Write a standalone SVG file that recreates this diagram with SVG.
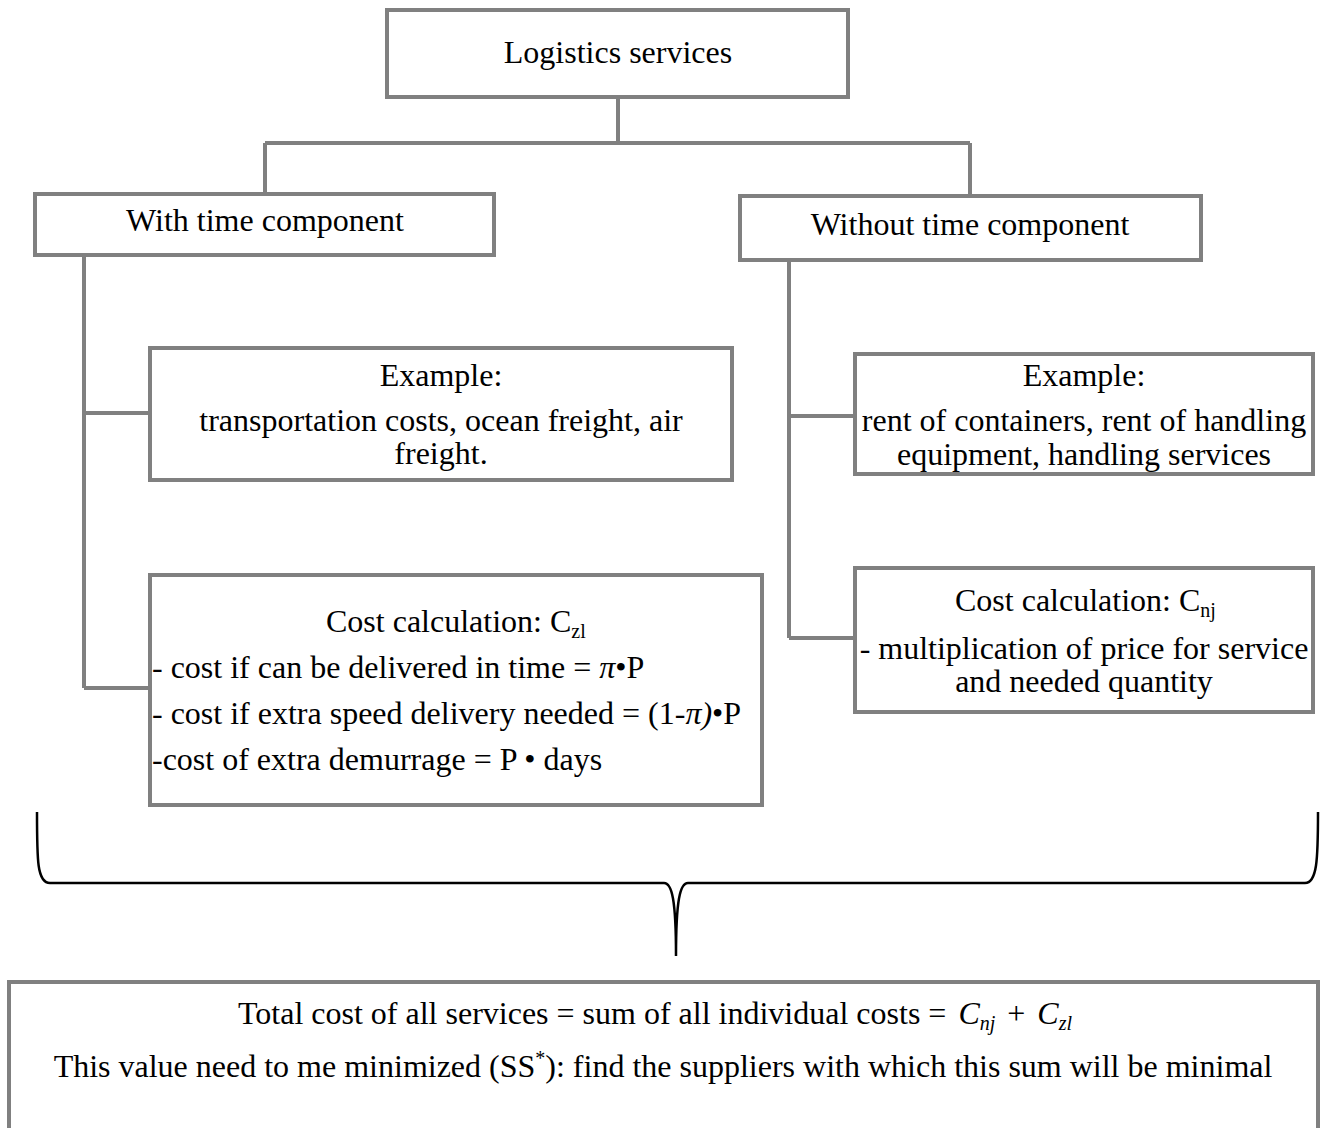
<svg xmlns="http://www.w3.org/2000/svg" width="1326" height="1128" viewBox="0 0 1326 1128">
<style>
.box{fill:#fff;stroke:#808080;stroke-width:4}
.ln{fill:none;stroke:#808080;stroke-width:4}
.brace{fill:none;stroke:#000;stroke-width:2.5}
text{font-family:"Liberation Serif","Times New Roman",serif;font-size:32px;fill:#000}
.c{text-anchor:middle}
.sub{font-size:20px}
.m{font-style:italic}
</style>
<rect width="1326" height="1128" fill="#fff"/>
<g id="connectors">
<path class="ln" d="M618,97 V143 M265,143 H970 M265,143 V195 M970,143 V196"/>
<path class="ln" d="M84,255 V688 M84,413 H150 M84,688 H150"/>
<path class="ln" d="M789,260 V638 M789,416 H855 M789,638 H855"/>
<path class="brace" d="M37,812 C37,860 37,883 50,883 L664,883 C672,883 676,900 676,956 C676,900 680,883 688,883 L1305,883 C1317,883 1318,860 1318,812"/>
</g>
<g id="n-root">
<rect class="box" x="387" y="10" width="461" height="87"/>
<text class="c" x="618" y="63">Logistics services</text>
</g>
<g id="n-with">
<rect class="box" x="35" y="194" width="459" height="61"/>
<text class="c" x="265" y="231">With time component</text>
</g>
<g id="n-without">
<rect class="box" x="740" y="196" width="461" height="64"/>
<text class="c" x="970" y="235">Without time component</text>
</g>
<g id="n-ex-left">
<rect class="box" x="150" y="348" width="582" height="132"/>
<text class="c" x="441" y="386">Example:</text>
<text class="c" x="441" y="431">transportation costs, ocean freight, air</text>
<text class="c" x="441" y="464">freight.</text>
</g>
<g id="n-cost-left">
<rect class="box" x="150" y="575" width="612" height="230"/>
<text x="326" y="632">Cost calculation: C<tspan class="sub" dy="6">zl</tspan></text>
<text x="152" y="678">- cost if can be delivered in time = <tspan class="m">π</tspan>•P</text>
<text x="152" y="724">- cost if extra speed delivery needed = (1-<tspan class="m">π)</tspan>•P</text>
<text x="152" y="770">-cost of extra demurrage = P • days</text>
</g>
<g id="n-ex-right">
<rect class="box" x="855" y="354" width="458" height="120"/>
<text class="c" x="1084" y="386">Example:</text>
<text class="c" x="1084" y="431">rent of containers, rent of handling</text>
<text class="c" x="1084" y="465">equipment, handling services</text>
</g>
<g id="n-cost-right">
<rect class="box" x="855" y="568" width="458" height="144"/>
<text x="955" y="611">Cost calculation: C<tspan class="sub" dy="6">nj</tspan></text>
<text class="c" x="1084" y="659">- multiplication of price for service</text>
<text class="c" x="1084" y="692">and needed quantity</text>
</g>
<g id="n-total">
<rect class="box" x="9" y="982" width="1309" height="170"/>
<text x="238" y="1024">Total cost of all services = sum of all individual costs = <tspan class="m" dx="4">C</tspan><tspan class="m sub" dy="6">nj</tspan><tspan dy="-6" dx="12">+</tspan><tspan class="m" dx="12">C</tspan><tspan class="m sub" dy="6">zl</tspan></text>
<text class="c" x="663" y="1077">This value need to me minimized (SS<tspan class="sub" dy="-12">*</tspan><tspan dy="12">): find the suppliers with which this sum will be minimal</tspan></text>
</g>
</svg>
